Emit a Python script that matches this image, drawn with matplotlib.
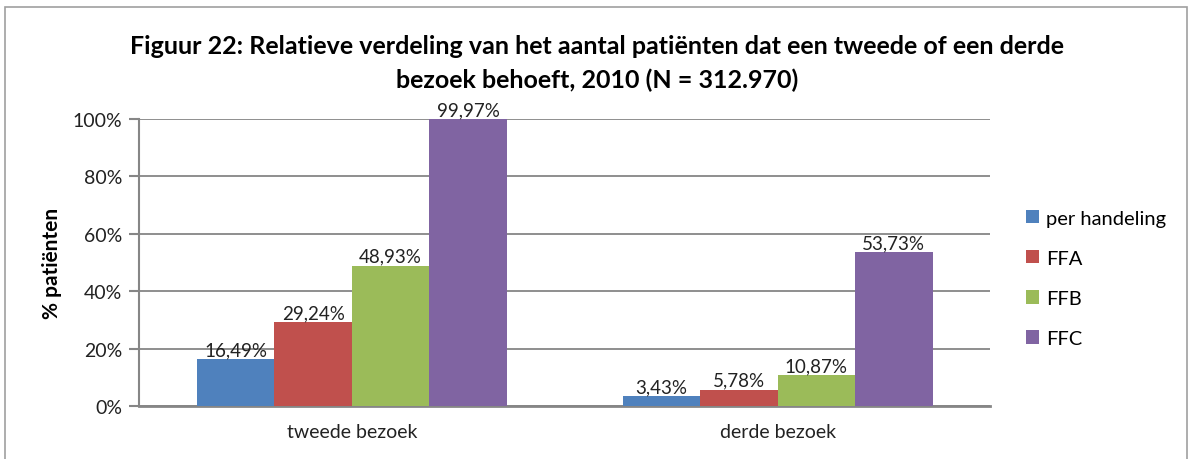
import matplotlib
matplotlib.use("Agg")
import matplotlib.pyplot as plt
import numpy as np
from matplotlib.patches import Rectangle
from matplotlib.ticker import FuncFormatter

plt.rcParams['font.family'] = ['Lato', 'DejaVu Sans']

categories = ["tweede bezoek", "derde bezoek"]
series = ["per handeling", "FFA", "FFB", "FFC"]
values = {
    "per handeling": [16.49, 3.43],
    "FFA": [29.24, 5.78],
    "FFB": [48.93, 10.87],
    "FFC": [99.97, 53.73],
}
colors = ["#4F81BD", "#C0504D", "#9BBB59", "#8064A2"]
yticks = [0, 20, 40, 60, 80, 100]

fig = plt.figure(figsize=(11.89, 4.60), dpi=100)
ax = fig.add_axes([0.117, 0.115, 0.716, 0.624])

x = np.arange(len(categories))
w = 0.182
for i, s in enumerate(series):
    pos = x + (i - 1.5) * w
    bars = ax.bar(pos, values[s], width=w, color=colors[i], label=s, zorder=3)
    for b, v in zip(bars, values[s]):
        ax.text(b.get_x() + b.get_width() / 2, v + 0.3, f"{v:.2f}%".replace(".", ","),
                ha="center", va="bottom", fontsize=13.5, color="#222222", zorder=4)

ax.set_xlim(-0.5, 1.5)
ax.set_ylim(0, 100)
ax.set_yticks(yticks)
ax.yaxis.set_major_formatter(FuncFormatter(lambda v, p: f"{v:.0f}%"))
ax.set_xticks(x)
ax.set_xticklabels(categories)
ax.tick_params(axis="x", length=0, pad=12, labelsize=14, labelcolor="#222222")
ax.tick_params(axis="y", length=7, width=1.5, color="#868686", labelsize=14, labelcolor="#222222", pad=5)
ax.yaxis.grid(True, color="#868686", linewidth=1.3, zorder=0)
for side in ["top", "right"]:
    ax.spines[side].set_visible(False)
ax.spines["left"].set_color("#868686")
ax.spines["left"].set_linewidth(1.5)
ax.spines["bottom"].set_color("#868686")
ax.spines["bottom"].set_linewidth(2)

ax.set_ylabel("% patiënten", fontsize=15, fontweight="bold", labelpad=8)

fig.text(0.502, 0.862, "Figuur 22: Relatieve verdeling van het aantal patiënten dat een tweede of een derde\nbezoek behoeft, 2010 (N = 312.970)",
         ha="center", va="center", fontsize=18, fontweight="bold", linespacing=1.5)

ax.legend(loc="center left", bbox_to_anchor=(1.02, 0.445), frameon=False, fontsize=14.5,
          handlelength=0.65, handleheight=0.65, handletextpad=0.35, labelspacing=1.15)

fig.patches.append(Rectangle((0.004, -0.01), 0.994, 0.993, transform=fig.transFigure,
                             fill=False, edgecolor="#A0A0A0", linewidth=1.2))

fig.savefig("out.png", dpi=100)
